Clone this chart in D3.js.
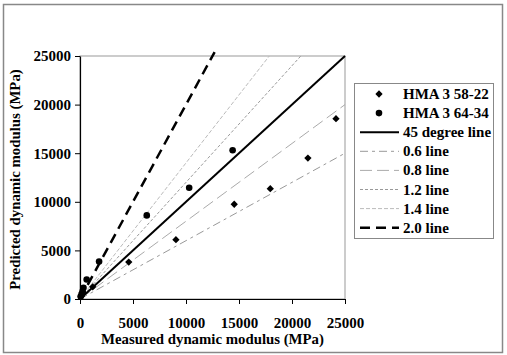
<!DOCTYPE html>
<html>
<head>
<meta charset="utf-8">
<script src="https://cdn.jsdelivr.net/npm/d3@7"></script>
<style>
  body { margin: 0; background: #fff; }
  svg text { font-family: "Liberation Serif", "Times New Roman", serif; font-weight: bold; }
</style>
</head>
<body>
<svg id="chart" width="507" height="355"></svg>
<script>
// Predicted vs measured dynamic modulus

const ticks = [0, 5000, 10000, 15000, 20000, 25000];

// HMA 3 58-22 (diamonds)
const hma5822 = [
    [120, 250], [300, 600], [1200, 1250], [4600, 3800], [9050, 6100],
    [14550, 9750], [17950, 11350], [21500, 14500], [24150, 18550]
];

// HMA 3 64-34 (circles)
const hma6434 = [
    [60, 250], [150, 500], [250, 800], [330, 1150], [630, 2000],
    [1800, 3850], [6300, 8600], [10300, 11450], [14400, 15300]
];

// reference lines: slope and how far along x they run
const refLines = [
    { name: '45 degree line', slope: 1.0, xEnd: 25000, color: '#000', width: 2, dash: null },
    { name: '0.6 line', slope: 0.6, xEnd: 25000, color: '#999', width: 1, dash: '8,4,3,4' },
    { name: '0.8 line', slope: 0.8, xEnd: 25000, color: '#aaa', width: 1, dash: '12,5' },
    { name: '1.2 line', slope: 1.2, xEnd: 20833, color: '#999', width: 1, dash: '3,2' },
    { name: '1.4 line', slope: 1.4, xEnd: 17857, color: '#bbb', width: 1, dash: '4,2' },
    { name: '2.0 line', slope: 2.0, xEnd: 12700, color: '#000', width: 2.5, dash: '10,6' }
];

const svg = d3.select('#chart');

// outer frame
svg.append('rect')
    .attr('x', 3.5).attr('y', 4.5)
    .attr('width', 499).attr('height', 348)
    .attr('fill', 'none')
    .attr('stroke', '#888')
    .attr('stroke-width', 1.5);

const margin = { left: 80, top: 56, right: 345, bottom: 299 };

const x = d3.scaleLinear().domain([0, 25000]).range([margin.left, margin.right]);
const y = d3.scaleLinear().domain([0, 25000]).range([margin.bottom, margin.top]);

// plot area border (gray)
svg.append('rect')
    .attr('x', margin.left).attr('y', margin.top)
    .attr('width', margin.right - margin.left)
    .attr('height', margin.bottom - margin.top)
    .attr('fill', 'none')
    .attr('stroke', '#999')
    .attr('stroke-width', 1);

// reference lines
const lineGen = d3.line().x(d => x(d[0])).y(d => y(d[1]));
refLines.slice().reverse().forEach(l => {
    svg.append('path')
        .datum([[0, 0], [l.xEnd, l.xEnd * l.slope]])
        .attr('d', lineGen)
        .attr('fill', 'none')
        .attr('stroke', l.color)
        .attr('stroke-width', l.width)
        .attr('stroke-dasharray', l.dash);
});

// axes
const fmt = d3.format('d');
const xAxis = svg.append('g')
    .attr('transform', `translate(0,${margin.bottom})`)
    .call(d3.axisBottom(x).tickValues(ticks).tickFormat(fmt).tickSize(5).tickPadding(10).tickSizeOuter(0));
const yAxis = svg.append('g')
    .attr('transform', `translate(${margin.left},0)`)
    .call(d3.axisLeft(y).tickValues(ticks).tickFormat(fmt).tickSize(5).tickPadding(4).tickSizeOuter(0));

[xAxis, yAxis].forEach(a => {
    a.select('.domain').attr('stroke', '#000').attr('stroke-width', 1.2);
    a.selectAll('.tick line').attr('stroke', '#000');
    a.selectAll('.tick text')
        .attr('fill', '#000')
        .style('font-size', '15px')
        .style('font-family', '"Liberation Serif", serif')
        .style('font-weight', 'bold');
});
xAxis.selectAll('.tick text').attr('dy', '0.95em');

// points
const diamond = d3.symbol().type(d3.symbolDiamond2).size(34);
svg.append('g')
    .selectAll('path')
    .data(hma5822)
    .enter()
    .append('path')
    .attr('d', diamond)
    .attr('transform', d => `translate(${x(d[0])},${y(d[1])})`)
    .attr('fill', '#000');

svg.append('g')
    .selectAll('circle')
    .data(hma6434)
    .enter()
    .append('circle')
    .attr('cx', d => x(d[0]))
    .attr('cy', d => y(d[1]))
    .attr('r', 3.3)
    .attr('fill', '#000');

// axis titles
svg.append('text')
    .attr('x', (margin.left + margin.right) / 2)
    .attr('y', 344)
    .attr('text-anchor', 'middle')
    .style('font-size', '14.8px')
    .text('Measured dynamic modulus (MPa)');

svg.append('text')
    .attr('transform', `translate(20,${(margin.top + margin.bottom) / 2 + 2}) rotate(-90)`)
    .attr('text-anchor', 'middle')
    .style('font-size', '14.8px')
    .text('Predicted dynamic modulus (MPa)');

// legend
const legend = svg.append('g').attr('transform', 'translate(354,83)');
legend.append('rect')
    .attr('x', 0.5).attr('y', 0.5)
    .attr('width', 139).attr('height', 155)
    .attr('fill', '#fff')
    .attr('stroke', '#888');

const legendItems = [
    { name: 'HMA 3 58-22', type: 'diamond' },
    { name: 'HMA 3 64-34', type: 'circle' }
].concat(refLines.map(l => ({ name: l.name, type: 'line', line: l })));

const item = legend.selectAll('.legend-item')
    .data(legendItems)
    .enter()
    .append('g')
    .attr('class', 'legend-item')
    .attr('transform', (d, i) => `translate(0,${11 + i * 19.1})`);

item.filter(d => d.type === 'diamond').append('path')
    .attr('d', diamond)
    .attr('transform', 'translate(25,0)')
    .attr('fill', '#000');
item.filter(d => d.type === 'circle').append('circle')
    .attr('cx', 25).attr('cy', 0).attr('r', 3.3)
    .attr('fill', '#000');
item.filter(d => d.type === 'line').append('line')
    .attr('x1', 6).attr('x2', 45)
    .attr('y1', 0).attr('y2', 0)
    .attr('stroke', d => d.line.color)
    .attr('stroke-width', d => d.line.width)
    .attr('stroke-dasharray', d => d.line.dash);

item.append('text')
    .attr('x', 49)
    .attr('y', 5)
    .style('font-size', '15px')
    .text(d => d.name);
</script>
</body>
</html>
